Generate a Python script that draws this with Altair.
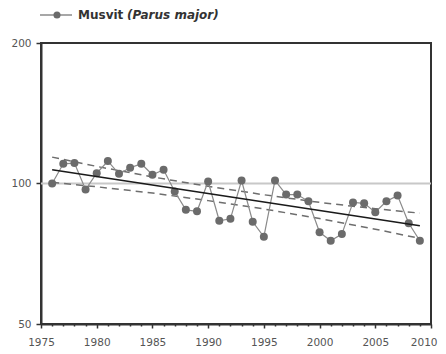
import altair as alt
import pandas as pd

# ---- data ----
years = list(range(1976, 2010))
index_vals = [100, 110.2, 110.6, 97.1, 105.2, 111.7, 104.9, 108.1, 110.2, 104.4,
              107, 96.1, 87.8, 87.2, 101, 83.2, 84, 101.5, 82.8, 76.9,
              101.5, 94.7, 94.7, 91.6, 78.6, 75.4, 77.9, 91.1, 90.7, 86.8,
              91.6, 94.2, 82.2, 75.4]

trend_years = [1976, 2009]
trend_vals = [107, 81.2]

band_years = [1976, 1980, 1985, 1990, 1995, 2000, 2005, 2009]
band_upper = [113.9, 108.8, 103.3, 98.6, 94.6, 91.1, 88.3, 86.4]
band_lower = [100.6, 98.4, 95.4, 91.9, 88.2, 84.1, 79.8, 76.3]

ref_level = [100]
x_ticks = list(range(1975, 2011))
y_ticks = [50, 100, 200]
legend_name = "Musvit"
legend_latin = "(Parus major)"

FONT = "DejaVu Sans"

df = pd.DataFrame({"year": years, "index": index_vals})
df_trend = pd.DataFrame({"year": trend_years, "value": trend_vals})
df_band = pd.DataFrame({
    "year": band_years * 2,
    "value": band_upper + band_lower,
    "band": ["upper"] * len(band_years) + ["lower"] * len(band_years),
})
df_ref = pd.DataFrame({"value": ref_level})

xscale = alt.Scale(domain=[1975, 2010], nice=False, zero=False)
yscale = alt.Scale(type="log", domain=[50, 200], nice=False)

xaxis = alt.Axis(
    values=x_ticks,
    labelExpr="datum.value % 5 === 0 ? datum.label : ''",
    labelOverlap=False,
    labelFlush=False,
    labelAlign={"expr": "datum.value === 2010 ? 'right' : 'center'"},
    labelOffset={"expr": "datum.value === 2010 ? 6 : 0"},
    title=None,
    grid=False,
    format="d",
    tickSize={"expr": "datum.value % 5 === 0 ? 4 : 2"},
    tickColor="#333",
    tickWidth=1.5,
    domainColor="#333",
    domainWidth=2,
    labelFont=FONT,
    labelFontSize=10.5,
    labelColor="#555",
    labelPadding=9,
)
yaxis = alt.Axis(
    values=y_ticks,
    title=None,
    grid=False,
    labelFlush=False,
    tickSize=5,
    tickColor="#333",
    tickWidth=1.5,
    domainColor="#333",
    domainWidth=2,
    labelFont=FONT,
    labelFontSize=10.5,
    labelColor="#555",
    labelPadding=5,
)

x_enc = alt.X("year:Q", scale=xscale, axis=xaxis)

ref = alt.Chart(df_ref).mark_rule(color="#c8c8c8", strokeWidth=2).encode(
    y=alt.Y("value:Q", scale=yscale, axis=yaxis)
)

bands = alt.Chart(df_band).mark_line(
    color="#6e6e6e", strokeWidth=1.5, strokeDash=[7, 5]
).encode(
    x=x_enc,
    y=alt.Y("value:Q", scale=yscale, axis=yaxis),
    detail="band:N",
)

data_line = alt.Chart(df).mark_line(color="#8a8a8a", strokeWidth=1.2).encode(
    x=x_enc, y=alt.Y("index:Q", scale=yscale, axis=yaxis)
)
data_pts = alt.Chart(df).mark_circle(color="#6b6b6b", size=64, opacity=1).encode(
    x=x_enc, y=alt.Y("index:Q", scale=yscale, axis=yaxis)
)

trend = alt.Chart(df_trend).mark_line(color="#1a1a1a", strokeWidth=1.6).encode(
    x=x_enc, y=alt.Y("value:Q", scale=yscale, axis=yaxis)
)

# ---- custom legend above the plot ----
one = pd.DataFrame({"a": [0]})
leg_line = alt.Chart(one).mark_rule(color="#8a8a8a", strokeWidth=1.5).encode(
    x=alt.value(-1), x2=alt.value(31), y=alt.value(-28)
)
leg_pt = alt.Chart(one).mark_circle(color="#6b6b6b", size=50, opacity=1).encode(
    x=alt.value(16), y=alt.value(-28)
)
leg_t1 = alt.Chart(one).mark_text(
    align="left", baseline="middle", font=FONT, fontSize=12, fontWeight="bold", color="#333"
).encode(x=alt.value(37), y=alt.value(-28), text=alt.value(legend_name))
leg_t2 = alt.Chart(one).mark_text(
    align="left", baseline="middle", font=FONT, fontSize=12, fontWeight="bold",
    fontStyle="italic", color="#333"
).encode(x=alt.value(86), y=alt.value(-28), text=alt.value(legend_latin))

chart = alt.layer(
    ref, bands, data_line, data_pts, trend, leg_line, leg_pt, leg_t1, leg_t2
).properties(
    width=390,
    height=281,
    autosize=alt.AutoSizeParams(type="none"),
    padding={"left": 33, "top": 35, "right": 7, "bottom": 22},
    background="white",
).configure_view(stroke="#333", strokeWidth=2)

chart.save("out.html", embed_options={"renderer": "svg", "actions": False})
